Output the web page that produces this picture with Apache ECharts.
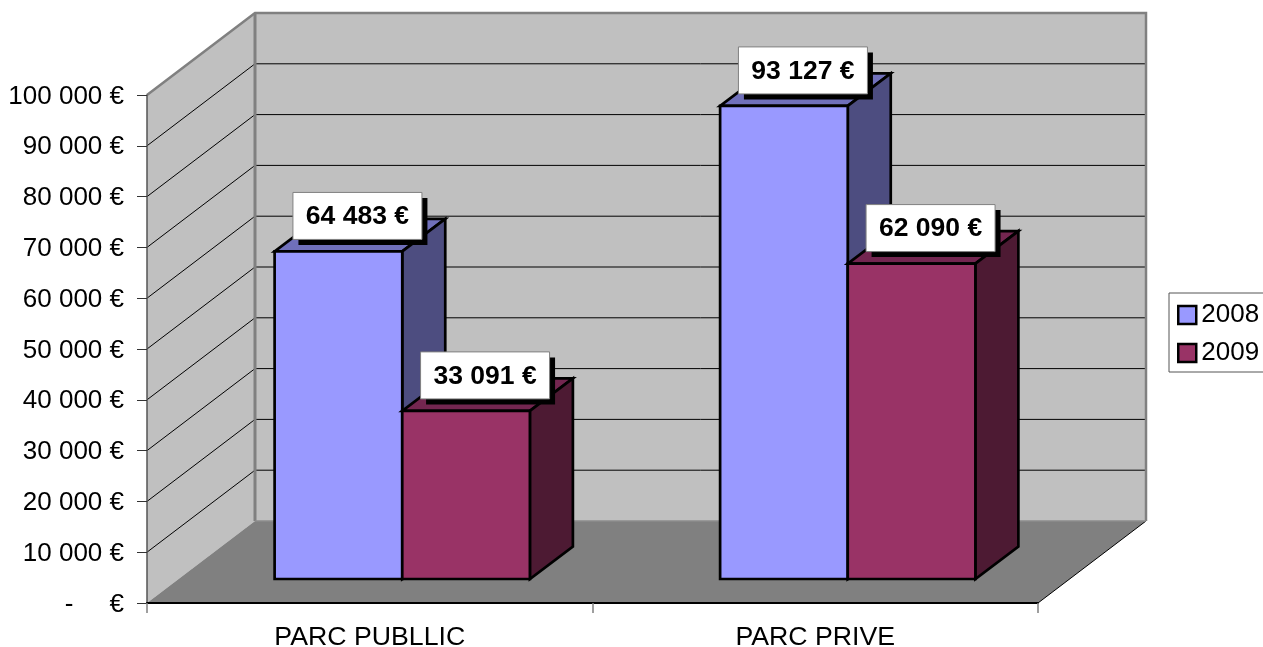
<!DOCTYPE html>
<html><head><meta charset="utf-8">
<style>html,body{margin:0;padding:0;background:#fff;overflow:hidden}#c{width:1263px;height:647px}</style>
<script src="https://cdn.jsdelivr.net/npm/echarts@6/dist/echarts.min.js"></script>
</head><body><div id="c"></div>
<script>
const categories = ['PARC PUBLLIC', 'PARC PRIVE'];
const values2008 = [64483, 93127];
const values2009 = [33091, 62090];
const seriesNames = ['2008', '2009'];
const yTicks = [0, 10000, 20000, 30000, 40000, 50000, 60000, 70000, 80000, 90000, 100000];

const FONT = '"Liberation Sans", Arial, sans-serif';
const WALL = {dx: 108, dy: 82};
const BAR_OFF = {dx: 32.5, dy: 24};
const BAR_DEPTH = {dx: 43, dy: 32.5};
const BAR_FRAC = 0.2865;
const COLORS = [
  {front: '#9999FF', top: '#7070BB', side: '#4D4D80'},
  {front: '#993366', top: '#732650', side: '#4D1A33'}
];
const fmt = v => v === 0 ? '-     €' : String(v).replace(/\B(?=(\d{3})+$)/g, ' ') + ' €';

function poly(points, fill, stroke, lw) {
  return {type: 'polygon', shape: {points}, style: {fill, stroke: stroke || 'none', lineWidth: lw || 0, lineJoin: 'miter'}};
}
function line(points, stroke, lw) {
  return {type: 'polyline', shape: {points}, style: {fill: 'none', stroke, lineWidth: lw}};
}
function renderWalls(params, api) {
  const cs = params.coordSys;
  const L = cs.x, R = cs.x + cs.width;
  const y0 = api.coord([0, 0])[1], yT = api.coord([0, 100000])[1];
  const d = WALL;
  const children = [
    poly([[L + d.dx, yT - d.dy], [R + d.dx, yT - d.dy], [R + d.dx, y0 - d.dy], [L + d.dx, y0 - d.dy]], '#C0C0C0'),
    poly([[L, y0], [L, yT], [L + d.dx, yT - d.dy], [L + d.dx, y0 - d.dy]], '#C0C0C0')
  ];
  yTicks.forEach(t => {
    if (t === 0 || t === 100000) return;
    const y = api.coord([0, t])[1];
    children.push(line([[L, y], [L + d.dx, y - d.dy], [R + d.dx, y - d.dy]], '#000', 1));
  });
  children.push(poly([[L, y0], [R, y0], [R + d.dx, y0 - d.dy], [L + d.dx, y0 - d.dy]], '#808080'));
  children.push(line([[R, y0], [R + d.dx, y0 - d.dy]], '#000', 1));
  children.push(line([[L, yT], [L + d.dx, yT - d.dy], [R + d.dx, yT - d.dy], [R + d.dx, y0 - d.dy]], '#808080', 2.5));
  children.push(line([[L + d.dx, yT - d.dy], [L + d.dx, y0 - d.dy]], '#808080', 3));
  children.push(line([[L + d.dx, y0 - d.dy], [R + d.dx, y0 - d.dy]], '#8c8c8c', 1.5));
  return {type: 'group', children};
}
function barGeom(api, idx) {
  const cat = api.value(0), val = api.value(1);
  const w = api.size([1, 0])[0] * BAR_FRAC;
  const top = api.coord([cat, val]);
  const base = api.coord([cat, 0]);
  const x0 = top[0] + BAR_OFF.dx + (idx - 1) * w;
  return {x0, x1: x0 + w, yt: top[1] - BAR_OFF.dy, yb: base[1] - BAR_OFF.dy};
}
function renderBar(idx) {
  return function (params, api) {
    const g = barGeom(api, idx), c = COLORS[idx], d = BAR_DEPTH;
    return {type: 'group', children: [
      poly([[g.x0, g.yt], [g.x1, g.yt], [g.x1 + d.dx, g.yt - d.dy], [g.x0 + d.dx, g.yt - d.dy]], c.top, '#000', 2.7),
      poly([[g.x1, g.yt], [g.x1 + d.dx, g.yt - d.dy], [g.x1 + d.dx, g.yb - d.dy], [g.x1, g.yb]], c.side, '#000', 2.7),
      poly([[g.x0, g.yt], [g.x1, g.yt], [g.x1, g.yb], [g.x0, g.yb]], c.front, '#000', 2.7)
    ]};
  };
}
function renderLabel(idx) {
  return function (params, api) {
    const g = barGeom(api, idx);
    const cx = (g.x0 + g.x1) / 2 + 19, cy = g.yt - 35.5;
    const W = 129, H = 47;
    return {type: 'group', children: [
      {type: 'rect', shape: {x: cx - W / 2 + 5.5, y: cy - H / 2 + 5.5, width: W, height: H}, style: {fill: '#000'}},
      {type: 'rect', shape: {x: cx - W / 2, y: cy - H / 2, width: W, height: H}, style: {fill: '#fff', stroke: '#808080', lineWidth: 1}},
      {type: 'text', x: cx, y: cy + 1, style: {text: fmt(api.value(1)), fill: '#000', font: 'bold 26.5px ' + FONT, align: 'center', verticalAlign: 'middle'}}
    ]};
  };
}
const pairs = vals => vals.map((v, i) => [i, v]);
const chart = echarts.init(document.getElementById('c'), null, {renderer: 'canvas'});
chart.setOption({
  animation: false,
  backgroundColor: '#fff',
  textStyle: {fontFamily: FONT},
  grid: {left: 147, right: 225, top: 95, bottom: 44, outerBoundsMode: 'none'},
  legend: {
    data: seriesNames, orient: 'vertical', left: 1169, top: 293, icon: 'rect',
    padding: [9, 12, 6, 8], itemWidth: 18, itemHeight: 18, itemGap: 12,
    borderColor: '#555', borderWidth: 1, backgroundColor: '#fff', selectedMode: false,
    textStyle: {fontFamily: FONT, fontSize: 26, color: '#000'},
    itemStyle: {borderColor: '#000', borderWidth: 2.5}
  },
  xAxis: {
    type: 'category', data: categories, z: 10,
    axisLine: {lineStyle: {color: '#000', width: 2}},
    axisTick: {show: true, length: 10, alignWithLabel: false, lineStyle: {color: '#808080', width: 1.5}},
    axisLabel: {fontFamily: FONT, fontSize: 26.7, color: '#000', margin: 21}
  },
  yAxis: {
    type: 'value', min: 0, max: 100000, interval: 10000, z: 10,
    splitLine: {show: false},
    axisLine: {show: true, lineStyle: {color: '#555', width: 1.5}},
    axisTick: {show: true, length: 10, lineStyle: {color: '#333', width: 1}},
    axisLabel: {fontFamily: FONT, fontSize: 26, color: '#000', margin: 23, verticalAlign: 'top', lineHeight: 3, formatter: fmt}
  },
  series: [
    {type: 'custom', name: 'walls', z: 1, silent: true, renderItem: renderWalls, data: [[0, 0]], encode: {x: 0, y: 1}},
    {type: 'custom', name: seriesNames[0], z: 2, renderItem: renderBar(0), data: pairs(values2008), encode: {x: 0, y: 1}, itemStyle: {color: COLORS[0].front}},
    {type: 'custom', name: seriesNames[1], z: 3, renderItem: renderBar(1), data: pairs(values2009), encode: {x: 0, y: 1}, itemStyle: {color: COLORS[1].front}},
    {type: 'custom', name: 'labels2008', z: 5, silent: true, renderItem: renderLabel(0), data: pairs(values2008), encode: {x: 0, y: 1}},
    {type: 'custom', name: 'labels2009', z: 5, silent: true, renderItem: renderLabel(1), data: pairs(values2009), encode: {x: 0, y: 1}}
  ]
});
</script></body></html>
